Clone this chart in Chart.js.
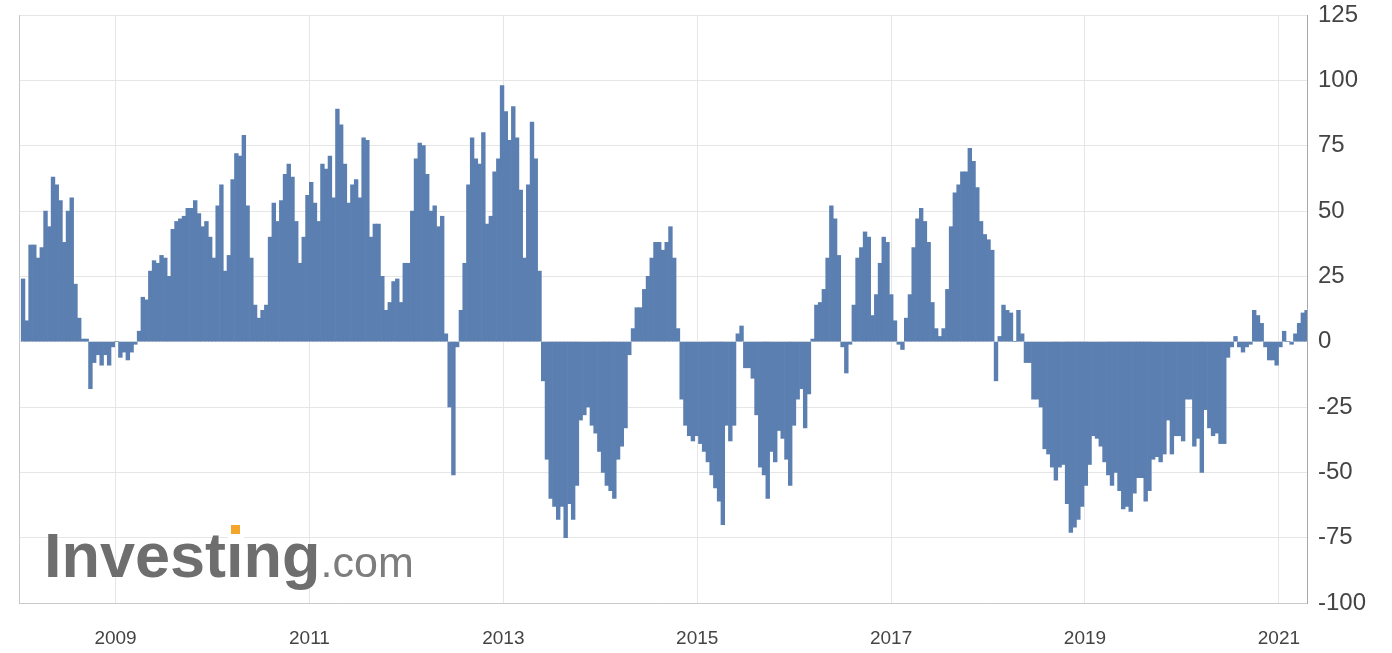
<!DOCTYPE html>
<html>
<head>
<meta charset="utf-8">
<script src="https://cdn.jsdelivr.net/npm/chart.js@4.4.1/dist/chart.umd.min.js"></script>
<style>
  html, body { margin: 0; padding: 0; background: #fff; }
  #wrap { position: relative; width: 1392px; height: 653px; }
  #logo { position: absolute; left: 44px; top: 524px; white-space: nowrap; line-height: 62px; font-family: Arial, "Liberation Sans", sans-serif; }
  #logo .inv { font-size: 63px; font-weight: bold; color: #6e6e6e; }
  #logo .com { font-size: 43px; color: #7d7d7d; }
  #mask { position: absolute; left: 228px; top: 522px; width: 16px; height: 21px; background: #fff; }
  #dot { position: absolute; left: 231px; top: 525px; width: 9px; height: 9px; background: #f4a52c; }
</style>
</head>
<body>
<div id="wrap">
  <canvas id="chart"></canvas>
  <div id="logo"><span class="inv">Investing</span><span class="com">.com</span></div>
  <div id="mask"></div>
  <div id="dot"></div>
</div>
<script>
// Net positions, one value every two weeks, starting mid-January 2008
const firstBarYear = 2008.046;
const barStepYears = 0.0386;
const netPositions = [
  24, 8, 37, 37, 32, 36, 50, 44, 63, 60, 54, 38, 50, 55, 22, 9, 1, 1, -18, -8,
  -5, -9, -5, -9, -2, 0, -6, -4, -7, -4, -1, 4, 17, 16, 27, 31, 30, 33, 32, 25,
  43, 46, 47, 48, 51, 51, 54, 49, 44, 46, 40, 32, 52, 60, 27, 33, 62, 72, 71, 79,
  52, 32, 14, 9, 12, 14, 40, 53, 46, 54, 64, 68, 63, 46, 30, 40, 56, 61, 53, 46,
  68, 66, 71, 55, 89, 83, 68, 53, 60, 62, 55, 78, 77, 40, 45, 45, 25, 12, 15, 23,
  24, 15, 30, 30, 50, 70, 76, 75, 64, 50, 52, 44, 48, 3, -25, -51, -2, 12, 30, 60,
  78, 70, 68, 80, 45, 48, 65, 70, 98, 88, 77, 90, 78, 58, 32, 60, 84, 70, 27, -15,
  -45, -60, -63, -68, -63, -75, -62, -68, -55, -30, -28, -25, -32, -35, -42, -50, -55, -57, -60, -45,
  -40, -33, -5, 5, 13, 13, 20, 25, 32, 38, 38, 35, 38, 44, 32, 5, -22, -32, -36, -38,
  -36, -39, -42, -46, -51, -56, -61, -70, -32, -38, -32, 3, 6, -10, -10, -14, -28, -48, -51, -60,
  -42, -46, -34, -37, -45, -55, -32, -22, -18, -33, -20, 1, 14, 15, 20, 32, 52, 47, 33, -2,
  -12, -1, 14, 32, 36, 42, 40, 10, 18, 30, 40, 38, 18, 8, -1, -3, 9, 18, 36, 47,
  51, 46, 38, 15, 5, 2, 5, 20, 44, 57, 60, 65, 65, 74, 69, 59, 46, 41, 39, 35,
  -15, 2, 14, 12, 11, 0, 12, 3, -8, -8, -22, -22, -25, -41, -43, -48, -53, -48, -47, -62,
  -73, -71, -68, -63, -55, -47, -36, -37, -40, -46, -51, -55, -50, -57, -64, -63, -65, -58, -52, -52,
  -61, -57, -45, -44, -46, -43, -30, -43, -36, -36, -38, -22, -22, -40, -37, -50, -26, -33, -36, -35,
  -39, -39, -6, -2, 2, -2, -4, -2, -1, 12, 10, 7, -2, -7, -7, -9, -2, 4, 0, -1,
  3, 7, 11, 12
];
const yearTicks = [2009, 2011, 2013, 2015, 2017, 2019, 2021];
const xRange = [2008.004, 2021.29];
const yRange = [-100, 125];
const yStep = 25;

const points = netPositions.map((v, i) => ({ x: firstBarYear + i * barStepYears, y: v }));

// light line on the left edge of the plot area
const framePlugin = {
  id: "frame",
  afterDraw(chart) {
    const { ctx, chartArea } = chart;
    ctx.save();
    ctx.strokeStyle = "#c9c9c9";
    ctx.lineWidth = 1;
    ctx.beginPath();
    ctx.moveTo(chartArea.left + 0.5, chartArea.top);
    ctx.lineTo(chartArea.left + 0.5, chartArea.bottom);
    ctx.stroke();
    ctx.restore();
  }
};

const ctx = document.getElementById("chart").getContext("2d");

new Chart(ctx, {
  type: "bar",
  data: {
    datasets: [{
      label: "Net positions",
      data: points,
      backgroundColor: "rgb(91, 127, 176)",
      borderWidth: 0,
      barPercentage: 1,
      categoryPercentage: 1
    }]
  },
  options: {
    responsive: true,
    maintainAspectRatio: false,
    animation: false,
    layout: { padding: { left: 19, top: 15, right: 0, bottom: 0 } },
    plugins: {
      legend: { display: false },
      tooltip: { enabled: false }
    },
    scales: {
      x: {
        type: "linear",
        offset: false,
        min: xRange[0],
        max: xRange[1],
        afterBuildTicks: scale => {
          scale.ticks = yearTicks.map(v => ({ value: v }));
        },
        afterFit: scale => {
          scale.height = 50;
          scale.paddingLeft = 0;
          scale.paddingRight = 0;
        },
        grid: { color: "#e6e6e6", drawTicks: false, offset: false },
        border: { display: true, color: "#c9c9c9" },
        ticks: {
          padding: 24,
          color: "#444",
          font: { family: "Arial", size: 19 },
          maxRotation: 0,
          callback: v => String(v)
        }
      },
      y: {
        position: "right",
        min: yRange[0],
        max: yRange[1],
        afterFit: scale => {
          scale.width = 85;
          scale.paddingTop = 0;
          scale.paddingBottom = 0;
        },
        grid: { color: "#e6e6e6", drawTicks: false },
        border: { display: true, color: "#a8a8a8" },
        ticks: {
          stepSize: yStep,
          padding: 11,
          color: "#444",
          font: { family: "Arial", size: 24 }
        }
      }
    }
  },
  plugins: [framePlugin]
});
</script>
</body>
</html>
